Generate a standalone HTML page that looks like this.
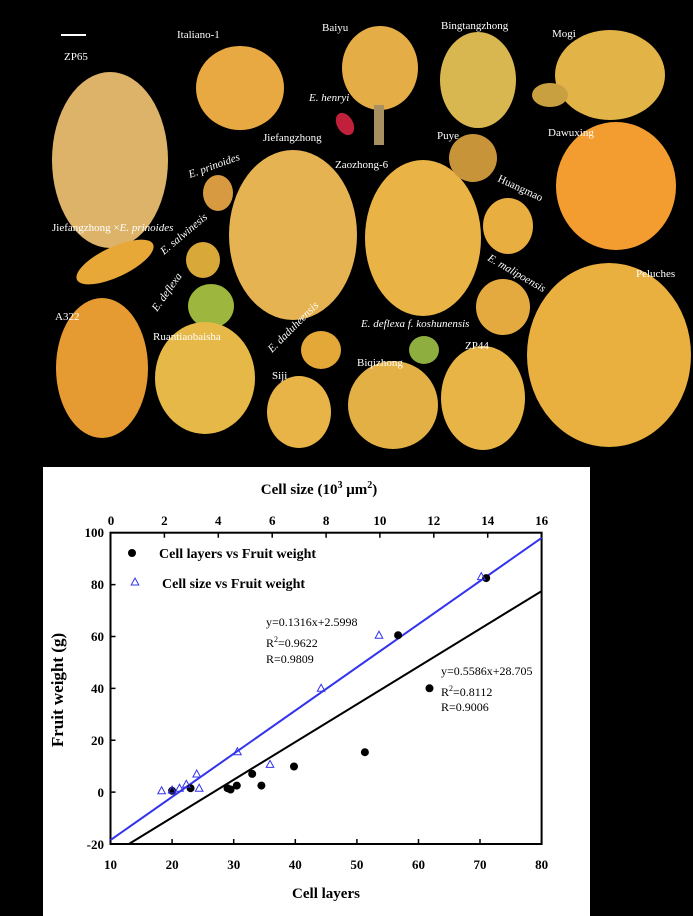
<!DOCTYPE html>
<html><head><meta charset="utf-8"><style>
html,body{margin:0;padding:0;background:#000;}
svg{display:block;}
text{font-family:"Liberation Serif",serif;}
.l{fill:#fff;font-size:11px;}
.b{font-weight:bold;font-size:13px;fill:#000;}
</style></head><body>
<svg width="693" height="916" viewBox="0 0 693 916" xmlns="http://www.w3.org/2000/svg">
<rect width="693" height="916" fill="#000"/>
<!-- fruits -->
<g>
<ellipse cx="110" cy="160" rx="58" ry="88" fill="#ddb36a"/>
<ellipse cx="240" cy="88" rx="44" ry="42" fill="#e8a842"/>
<ellipse cx="380" cy="68" rx="38" ry="42" fill="#e4ad45"/>
<rect x="374" y="105" width="10" height="40" fill="#a89060"/>
<ellipse cx="345" cy="124" rx="8" ry="12" fill="#c0203a" transform="rotate(-30 345 124)"/>
<ellipse cx="478" cy="80" rx="38" ry="48" fill="#d8b650"/>
<ellipse cx="610" cy="75" rx="55" ry="45" fill="#e2b448"/>
<ellipse cx="550" cy="95" rx="18" ry="12" fill="#c9a040"/>
<ellipse cx="293" cy="235" rx="64" ry="85" fill="#e6b352"/>
<ellipse cx="423" cy="238" rx="58" ry="78" fill="#e9b445"/>
<ellipse cx="473" cy="158" rx="24" ry="24" fill="#c8943a"/>
<ellipse cx="616" cy="186" rx="60" ry="64" fill="#f39d30"/>
<ellipse cx="508" cy="226" rx="25" ry="28" fill="#e8ae40"/>
<ellipse cx="218" cy="193" rx="15" ry="18" fill="#d89a40"/>
<ellipse cx="115" cy="262" rx="42" ry="15" fill="#e8a838" transform="rotate(-25 115 262)"/>
<ellipse cx="203" cy="260" rx="17" ry="18" fill="#d8a838"/>
<ellipse cx="211" cy="306" rx="23" ry="22" fill="#9cb63e"/>
<ellipse cx="503" cy="307" rx="27" ry="28" fill="#e4aa40"/>
<ellipse cx="609" cy="355" rx="82" ry="92" fill="#e9b040"/>
<ellipse cx="102" cy="368" rx="46" ry="70" fill="#e69a32"/>
<ellipse cx="205" cy="378" rx="50" ry="56" fill="#e6b848"/>
<ellipse cx="321" cy="350" rx="20" ry="19" fill="#e4a838"/>
<ellipse cx="299" cy="412" rx="32" ry="36" fill="#e8b448"/>
<ellipse cx="393" cy="405" rx="45" ry="44" fill="#e2b044"/>
<ellipse cx="424" cy="350" rx="15" ry="14" fill="#8fae40"/>
<ellipse cx="483" cy="398" rx="42" ry="52" fill="#e8b445"/>
</g>
<rect x="61" y="34" width="25" height="2" fill="#fff"/>
<g class="l">
<text x="64" y="60">ZP65</text>
<text x="177" y="38">Italiano-1</text>
<text x="322" y="31">Baiyu</text>
<text x="441" y="29">Bingtangzhong</text>
<text x="552" y="37">Mogi</text>
<text x="309" y="101" font-style="italic">E. henryi</text>
<text x="263" y="141">Jiefangzhong</text>
<text x="437" y="139">Puye</text>
<text x="548" y="136">Dawuxing</text>
<text x="335" y="168">Zaozhong-6</text>
<text x="190" y="178" font-style="italic" transform="rotate(-20 190 178)">E. prinoides</text>
<text x="497" y="181" transform="rotate(25 497 181)">Huangmao</text>
<text x="52" y="231">Jiefangzhong ×<tspan font-style="italic">E. prinoides</tspan></text>
<text x="164" y="255" font-style="italic" transform="rotate(-40 164 255)">E. salwinesis</text>
<text x="157" y="312" font-style="italic" transform="rotate(-55 157 312)">E. deflexa</text>
<text x="487" y="260" font-style="italic" transform="rotate(30 487 260)">E. malipoensis</text>
<text x="636" y="277">Peluches</text>
<text x="55" y="320">A322</text>
<text x="153" y="340">Ruantiaobaisha</text>
<text x="272" y="353" font-style="italic" transform="rotate(-45 272 353)">E. daduheensis</text>
<text x="361" y="327" font-style="italic">E. deflexa f. koshunensis</text>
<text x="465" y="349">ZP44</text>
<text x="357" y="366">Biqizhong</text>
<text x="272" y="379">Siji</text>
</g>
<!-- chart panel -->
<rect x="43" y="467" width="547" height="449" fill="#fff"/>
<rect x="110.5" y="532.7" width="431.1" height="311.3" fill="none" stroke="#000" stroke-width="2"/>
<g stroke="#000" stroke-width="1.5">
<!-- bottom ticks -->
<path d="M110.5 844v-5M172.1 844v-5M233.7 844v-5M295.3 844v-5M356.9 844v-5M418.5 844v-5M480.0 844v-5M541.6 844v-5"/>
<path d="M110.5 532.7v5M164.4 532.7v5M218.3 532.7v5M272.2 532.7v5M326.1 532.7v5M379.9 532.7v5M433.8 532.7v5M487.7 532.7v5M541.6 532.7v5"/>
<path d="M110.5 532.7h5M110.5 584.6h5M110.5 636.5h5M110.5 688.4h5M110.5 740.2h5M110.5 792.1h5M110.5 844h5"/>
</g>
<g class="b" text-anchor="middle">
<text x="110.5" y="869">10</text><text x="172.1" y="869">20</text><text x="233.7" y="869">30</text><text x="295.3" y="869">40</text><text x="356.9" y="869">50</text><text x="418.5" y="869">60</text><text x="480" y="869">70</text><text x="541.6" y="869">80</text>
<text x="111" y="525">0</text><text x="164.4" y="525">2</text><text x="218.3" y="525">4</text><text x="272.2" y="525">6</text><text x="326.1" y="525">8</text><text x="379.9" y="525">10</text><text x="433.8" y="525">12</text><text x="487.7" y="525">14</text><text x="541.6" y="525">16</text>
</g>
<g class="b" text-anchor="end">
<text x="104" y="537">100</text><text x="104" y="589">80</text><text x="104" y="641">60</text><text x="104" y="693">40</text><text x="104" y="745">20</text><text x="104" y="797">0</text><text x="104" y="849">-20</text>
</g>
<text x="319" y="494" text-anchor="middle" font-weight="bold" font-size="15">Cell size (10<tspan font-size="10" dy="-6">3</tspan><tspan dy="6"> μm</tspan><tspan font-size="10" dy="-6">2</tspan><tspan dy="6">)</tspan></text>
<text x="326" y="898" text-anchor="middle" font-weight="bold" font-size="15">Cell layers</text>
<text x="63" y="690" text-anchor="middle" font-weight="bold" font-size="17" transform="rotate(-90 63 690)">Fruit weight (g)</text>
<!-- lines -->
<line x1="128.9" y1="844" x2="541.6" y2="591.1" stroke="#000" stroke-width="2"/>
<line x1="110.5" y1="840.1" x2="541.6" y2="537.9" stroke="#3333ee" stroke-width="2"/>
<!-- circles -->
<g fill="#000">
<circle cx="172.1" cy="790.8" r="4"/><circle cx="190.6" cy="788.2" r="4"/><circle cx="227.5" cy="788.2" r="4"/><circle cx="230.6" cy="789.5" r="4"/><circle cx="236.8" cy="785.6" r="4"/><circle cx="252.2" cy="773.9" r="4"/><circle cx="261.4" cy="785.6" r="4"/><circle cx="294" cy="766.5" r="4"/><circle cx="364.9" cy="752.2" r="4"/><circle cx="398.1" cy="635.2" r="4"/><circle cx="429.5" cy="688.3" r="4"/><circle cx="486.2" cy="578.1" r="4"/>
<circle cx="132" cy="553" r="4"/>
</g>
<g fill="none" stroke="#3333ee" stroke-width="1">
<path id="t" d="M0 -4L3.8 3H-3.8Z" transform="translate(161.6 790.8)"/>
<path d="M0 -4L3.8 3H-3.8Z" transform="translate(172.1 790)"/>
<path d="M0 -4L3.8 3H-3.8Z" transform="translate(179.5 788.2)"/>
<path d="M0 -4L3.8 3H-3.8Z" transform="translate(186.3 784.3)"/>
<path d="M0 -4L3.8 3H-3.8Z" transform="translate(196.7 774)"/>
<path d="M0 -4L3.8 3H-3.8Z" transform="translate(199.2 788.2)"/>
<path d="M0 -4L3.8 3H-3.8Z" transform="translate(237.4 751.7)"/>
<path d="M0 -4L3.8 3H-3.8Z" transform="translate(270 764.4)"/>
<path d="M0 -4L3.8 3H-3.8Z" transform="translate(321.1 688.3)"/>
<path d="M0 -4L3.8 3H-3.8Z" transform="translate(379 635.2)"/>
<path d="M0 -4L3.8 3H-3.8Z" transform="translate(481.3 576.6)"/>
<path d="M0 -4L3.8 3H-3.8Z" transform="translate(135 582)"/>
</g>
<text x="159" y="558" font-weight="bold" font-size="14">Cell layers vs Fruit weight</text>
<text x="162" y="588" font-weight="bold" font-size="14">Cell size vs Fruit weight</text>
<g font-size="12" fill="#000">
<text x="266" y="626">y=0.1316x+2.5998</text>
<text x="266" y="647">R<tspan font-size="8" dy="-5">2</tspan><tspan dy="5">=0.9622</tspan></text>
<text x="266" y="663">R=0.9809</text>
<text x="441" y="675">y=0.5586x+28.705</text>
<text x="441" y="696">R<tspan font-size="8" dy="-5">2</tspan><tspan dy="5">=0.8112</tspan></text>
<text x="441" y="711">R=0.9006</text>
</g>
</svg>
</body></html>
